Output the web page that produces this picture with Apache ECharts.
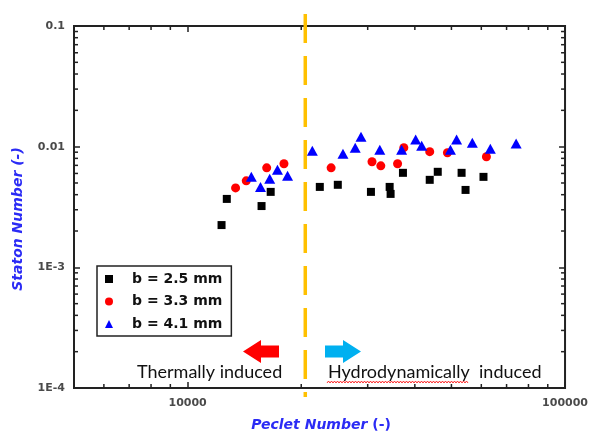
<!DOCTYPE html>
<html><head><meta charset="utf-8">
<script src="https://cdn.jsdelivr.net/npm/echarts@6/dist/echarts.min.js"></script>
<style>html,body{margin:0;padding:0;background:#fff}#c{width:591px;height:434px}</style>
</head><body><div id="c"></div>
<script>
const seriesNames = ['b = 2.5 mm', 'b = 3.3 mm', 'b = 4.1 mm'];
const peclet25 = [12300,12700,15700,16600,22400,25000,30600,34300,34500,37200,43800,46000,53200,54500,60800];
const stanton25 = [0.00224,0.00369,0.00322,0.00422,0.00464,0.00483,0.00422,0.00464,0.00406,0.00607,0.00531,0.00619,0.00607,0.00438,0.00562];
const peclet33 = [13400,14300,16200,18000,24000,30800,32500,36000,37400,43800,48800,61900];
const stanton33 = [0.00455,0.00521,0.00668,0.00722,0.00668,0.0075,0.00694,0.00722,0.00981,0.00909,0.00891,0.00825];
const peclet41 = [14750,15600,16500,17300,18400,21400,25800,27800,28800,32300,36900,40200,41700,49700,51600,56800,63400,74200];
const stanton41 = [0.00562,0.00464,0.00541,0.00643,0.00573,0.00926,0.00874,0.00981,0.0121,0.00944,0.00944,0.01144,0.0102,0.00944,0.01144,0.0108,0.00962,0.0106];
const xTickValues = [10000, 100000];
const xTickLabels = ['10000', '100000'];
const yTickValues = [0.1, 0.01, 0.001, 0.0001];
const yTickLabels = ['0.1', '0.01', '1E-3', '1E-4'];
const xMinorTicks = [6000,7000,8000,9000,20000,30000,40000,50000,60000,70000,80000,90000];
const yMinorTicks = [0.0002,0.0003,0.0004,0.0005,0.0006,0.0007,0.0008,0.0009,
  0.002,0.003,0.004,0.005,0.006,0.007,0.008,0.009,
  0.02,0.03,0.04,0.05,0.06,0.07,0.08,0.09];
const xMin = 5000, xMax = 100000, yMin = 0.0001, yMax = 0.1;
const dividerPeclet = 20500;

function pair(xs, ys) { return xs.map((x, i) => [x, ys[i]]); }
function findLabel(v, vals, labels) {
  for (let i = 0; i < vals.length; i++) {
    if (Math.abs(Math.log10(v) - Math.log10(vals[i])) < 1e-6) return labels[i];
  }
  return '';
}
const frameColor = '#222';
const tickStyle = { stroke: frameColor, lineWidth: 1.5 };

const chart = echarts.init(document.getElementById('c'), null, { renderer: 'canvas' });

const axisCommonX = {
  type: 'log', logBase: 10, min: xMin, max: xMax,
  axisLine: { show: false }, splitLine: { show: false },
  axisTick: { inside: true, length: 6, lineStyle: { color: frameColor, width: 1.5 } }
};
const axisCommonY = {
  type: 'log', logBase: 10, min: yMin, max: yMax,
  axisLine: { show: false }, splitLine: { show: false },
  axisTick: { inside: true, length: 6, lineStyle: { color: frameColor, width: 1.5 } }
};
const labelFont = { fontFamily: 'DejaVu Sans', fontWeight: 'bold', fontSize: 11, color: '#4a4a4a' };

const legendIcons = [
  'path://M0,0L1,0L1,1L0,1Z',
  'path://M0,0.5A0.5,0.5,0,1,1,1,0.5A0.5,0.5,0,1,1,0,0.5Z',
  'path://M0.5,0L1,1L0,1Z'
];

const option = {
  animation: false,
  backgroundColor: '#fff',
  grid: { left: 74, top: 26, right: 25, bottom: 46, show: true, borderColor: frameColor, borderWidth: 2, backgroundColor: 'transparent' },
  xAxis: [
    Object.assign({}, axisCommonX, {
      position: 'bottom',
      axisLabel: Object.assign({ margin: 10, formatter: v => findLabel(v, xTickValues, xTickLabels) }, labelFont)
    }),
    Object.assign({}, axisCommonX, { position: 'top', axisLabel: { show: false } })
  ],
  yAxis: [
    Object.assign({}, axisCommonY, {
      position: 'left',
      axisLabel: Object.assign({ margin: 9, formatter: v => findLabel(v, yTickValues, yTickLabels) }, labelFont)
    }),
    Object.assign({}, axisCommonY, { position: 'right', axisLabel: { show: false } })
  ],
  legend: {
    data: seriesNames.map((n, i) => ({ name: n, icon: legendIcons[i] })),
    orient: 'vertical', left: 97, top: 266,
    padding: [6, 9, 5, 8], itemWidth: 36, itemHeight: 8, itemGap: 8.5,
    borderColor: frameColor, borderWidth: 1.5, backgroundColor: '#fff',
    selectedMode: false,
    textStyle: { fontFamily: 'DejaVu Sans', fontWeight: 'bold', fontSize: 14, color: '#111', lineHeight: 14 }
  },
  series: [
    {
      name: seriesNames[0], type: 'scatter', data: pair(peclet25, stanton25),
      symbol: 'rect', symbolSize: 8, itemStyle: { color: '#000', opacity: 1 }, z: 3
    },
    {
      name: seriesNames[1], type: 'scatter', data: pair(peclet33, stanton33),
      symbol: 'circle', symbolSize: 9, itemStyle: { color: '#ff0000', opacity: 1 }, z: 3
    },
    {
      name: seriesNames[2], type: 'scatter', data: pair(peclet41, stanton41),
      symbol: 'triangle', symbolSize: [11, 10], itemStyle: { color: '#0000ff', opacity: 1 }, z: 3
    },
    {
      type: 'custom', silent: true, z: 4, clip: false,
      data: xMinorTicks.map(v => [v, yMin]),
      renderItem: function (params, api) {
        const cs = params.coordSys;
        const x = api.coord([api.value(0), api.value(1)])[0];
        const b = cs.y + cs.height;
        return { type: 'group', children: [
          { type: 'line', shape: { x1: x, y1: b, x2: x, y2: b - 4 }, style: tickStyle },
          { type: 'line', shape: { x1: x, y1: cs.y, x2: x, y2: cs.y + 4 }, style: tickStyle }
        ] };
      }
    },
    {
      type: 'custom', silent: true, z: 4, clip: false,
      data: yMinorTicks.map(v => [xMin, v]),
      renderItem: function (params, api) {
        const cs = params.coordSys;
        const y = api.coord([api.value(0), api.value(1)])[1];
        const r = cs.x + cs.width;
        return { type: 'group', children: [
          { type: 'line', shape: { x1: cs.x, y1: y, x2: cs.x + 4, y2: y }, style: tickStyle },
          { type: 'line', shape: { x1: r, y1: y, x2: r - 4, y2: y }, style: tickStyle }
        ] };
      }
    },
    {
      type: 'custom', silent: true, z: 10, clip: false,
      data: [[dividerPeclet, yMin]],
      renderItem: function (params, api) {
        const cs = params.coordSys;
        const x = api.coord([api.value(0), api.value(1)])[0];
        return { type: 'line', shape: { x1: x, y1: cs.y - 12, x2: x, y2: cs.y + cs.height + 9 },
          style: { stroke: '#FFC000', lineWidth: 3.5, lineDash: [29, 13] } };
      }
    }
  ],
  graphic: [
    {
      type: 'text', x: 18, y: 219, rotation: Math.PI / 2,
      style: { text: 'Staton Number (-)', align: 'center', verticalAlign: 'middle',
        font: 'italic bold 14px "DejaVu Sans"', fill: '#2b2bf5' }
    },
    {
      type: 'text', x: 321, y: 425,
      style: { text: '{a|Peclet Number }{b|(-)}', align: 'center', verticalAlign: 'middle',
        rich: {
          a: { fontFamily: 'DejaVu Sans', fontStyle: 'italic', fontWeight: 'bold', fontSize: 14, fill: '#2b2bf5', color: '#2b2bf5' },
          b: { fontFamily: 'DejaVu Sans', fontWeight: 'bold', fontSize: 14, fill: '#2b2bf5', color: '#2b2bf5' }
        } }
    },
    {
      type: 'polygon', shape: { points: [[243,351.5],[261,340],[261,345.5],[279,345.5],[279,357.5],[261,357.5],[261,363]] },
      style: { fill: '#ff0000' }
    },
    {
      type: 'polygon', shape: { points: [[361,351.5],[343,340],[343,345.5],[325,345.5],[325,357.5],[343,357.5],[343,363]] },
      style: { fill: '#00b0f0' }
    },
    {
      type: 'text', x: 137, y: 372,
      style: { text: 'Thermally induced', align: 'left', verticalAlign: 'middle', font: '18px Lato', fill: '#111' }
    },
    {
      type: 'text', x: 328, y: 372,
      style: { text: 'Hydrodynamically  induced', align: 'left', verticalAlign: 'middle', font: '18px Lato', fill: '#111' }
    },
    {
      type: 'polyline',
      shape: { points: (function () { const p = []; for (let x = 327, k = 0; x <= 468; x += 1.5, k++) p.push([x, k % 2 ? 381 : 383]); return p; })() },
      style: { stroke: '#ff0000', lineWidth: 0.8, fill: null }
    }
  ]
};
chart.setOption(option);
</script>
</body></html>
